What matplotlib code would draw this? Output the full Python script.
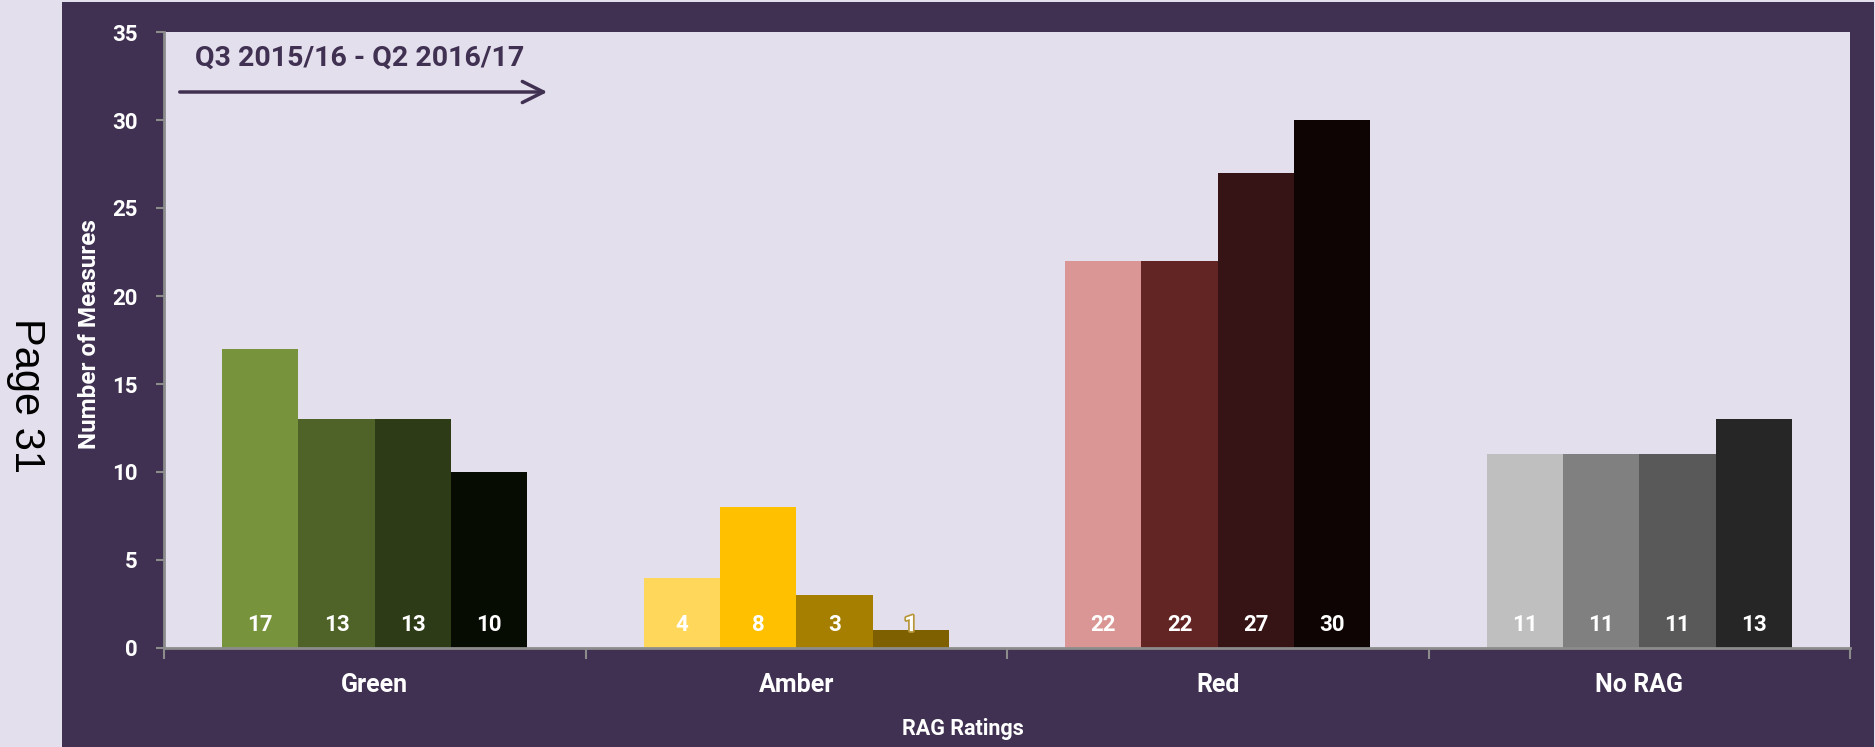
import numpy as np
import matplotlib.pyplot as plt
import matplotlib.patheffects as pe

categories = ["Green", "Amber", "Red", "No RAG"]
# four quarters, Q3 2015/16 .. Q2 2016/17
green = [17, 13, 13, 10]
amber = [4, 8, 3, 1]
red = [22, 22, 27, 30]
norag = [11, 11, 11, 13]

green_cols = ["#77933C", "#4F6228", "#2E3B17", "#070C03"]
amber_cols = ["#FFD75B", "#FFC000", "#A67F00", "#7F6000"]
red_cols = ["#DA9694", "#632523", "#361415", "#0E0404"]
norag_cols = ["#BFBFBF", "#808080", "#595959", "#262626"]

dark = "#403152"
light = "#E4DFEC"
axis_grey = "#8C8C8C"

plt.rcParams['font.family'] = ['Roboto', 'DejaVu Sans']
plt.rcParams['font.weight'] = 'bold'

fig = plt.figure(figsize=(18.75, 7.47), dpi=100)
fig.patch.set_facecolor(light)
# dark purple frame behind the plot
bg = fig.add_axes([62/1875, 0, (1874-62)/1875, 745/747], zorder=-1)
bg.set_facecolor(dark)
bg.set_xticks([])
bg.set_yticks([])
for s in bg.spines.values():
    s.set_visible(False)

ax = fig.add_axes([164/1875, (747-648)/747, (1850-164)/1875, (648-32)/747], zorder=1)
ax.set_facecolor(light)

w = 0.181
x = np.arange(len(categories))
groups = [green, amber, red, norag]
cols = [green_cols, amber_cols, red_cols, norag_cols]
for gi, (vals, cc) in enumerate(zip(groups, cols)):
    for j in range(4):
        xc = x[gi] + (j - 1.5) * w
        ax.bar(xc, vals[j], width=w, color=cc[j], zorder=2)
        t = ax.text(xc, 1.3, str(vals[j]), color="white", ha="center",
                    va="center", fontsize=16, fontweight="bold", zorder=3)
        if vals[j] < 3:
            t.set_path_effects([pe.withStroke(linewidth=2.5, foreground="#B8963A")])

ax.set_xlim(-0.5, 3.5)
ax.set_ylim(0, 35)
ax.set_yticks(np.arange(0, 36, 5))
ax.set_xticks(x)
ax.set_xticklabels(categories)
ax.set_xticks([-0.5, 0.5, 1.5, 2.5, 3.5], minor=True)

for s in ["top", "right"]:
    ax.spines[s].set_visible(False)
for s in ["left", "bottom"]:
    ax.spines[s].set_color(axis_grey)
    ax.spines[s].set_linewidth(2)
    ax.spines[s].set_zorder(4)

ax.tick_params(axis="y", colors=axis_grey, labelcolor="white", length=6,
               width=1.5, pad=13, labelsize=16)
ax.tick_params(axis="x", which="major", length=0, pad=18, labelcolor="white",
               labelsize=18)
ax.tick_params(axis="x", which="minor", length=8, width=1.5, colors=axis_grey)

ax.set_ylabel("Number of Measures", color="white", fontsize=17.5, fontweight="bold")
ax.yaxis.set_label_coords(-0.0375, 0.51)
ax.set_xlabel("RAG Ratings", color="white", fontsize=15.5, fontweight="bold")
ax.xaxis.set_label_coords(0.474, -0.113)

ax.text(0.0184, 0.958, "Q3 2015/16 - Q2 2016/17", transform=ax.transAxes,
        color=dark, fontsize=20.5, fontweight="bold", ha="left", va="center")
ax.annotate("", xy=(0.229, 0.9026), xytext=(0.0077, 0.9026),
            xycoords="axes fraction", textcoords="axes fraction",
            arrowprops=dict(arrowstyle="->", color=dark, lw=2.5,
                            mutation_scale=38))

fig.text(26/1875, (747-395)/747, "Page 31", rotation=-90, fontsize=30,
         family=["Liberation Sans", "DejaVu Sans"], fontweight="normal",
         color="black", ha="center", va="center")

fig.savefig("out.png", dpi=100, facecolor=fig.get_facecolor())
